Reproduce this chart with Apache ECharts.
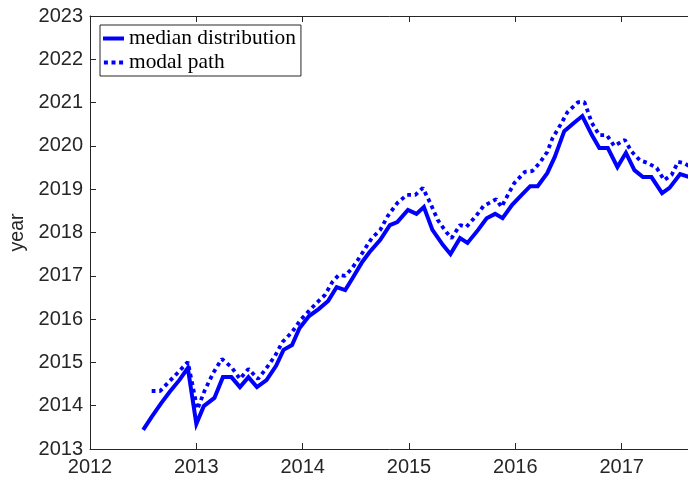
<!DOCTYPE html>
<html>
<head>
<meta charset="utf-8">
<script src="https://cdn.jsdelivr.net/npm/echarts@6/dist/echarts.min.js"></script>
<style>
html,body{margin:0;padding:0;background:#fff;}
#chart{width:688px;height:482px;}
</style>
</head>
<body>
<div id="chart"></div>
<script>
var medianX = [2012.50,2012.58,2012.67,2012.75,2012.84,2012.92,2013.00,2013.07,2013.17,2013.25,2013.33,2013.41,2013.49,2013.57,2013.66,2013.75,2013.82,2013.90,2013.97,2014.06,2014.15,2014.24,2014.32,2014.40,2014.47,2014.56,2014.63,2014.73,2014.82,2014.89,2014.99,2015.07,2015.14,2015.22,2015.32,2015.39,2015.48,2015.55,2015.65,2015.73,2015.81,2015.88,2015.97,2016.06,2016.14,2016.21,2016.30,2016.37,2016.46,2016.55,2016.63,2016.72,2016.79,2016.87,2016.96,2017.04,2017.12,2017.20,2017.28,2017.38,2017.45,2017.55,2017.64];
var medianY = [2013.44,2013.74,2014.06,2014.32,2014.59,2014.87,2013.58,2013.99,2014.18,2014.66,2014.66,2014.43,2014.66,2014.43,2014.59,2014.92,2015.29,2015.40,2015.79,2016.07,2016.23,2016.42,2016.74,2016.67,2016.95,2017.32,2017.55,2017.83,2018.17,2018.24,2018.52,2018.43,2018.59,2018.06,2017.71,2017.50,2017.87,2017.76,2018.06,2018.33,2018.43,2018.33,2018.64,2018.87,2019.07,2019.07,2019.37,2019.74,2020.34,2020.53,2020.69,2020.25,2019.95,2019.95,2019.51,2019.84,2019.44,2019.28,2019.28,2018.91,2019.03,2019.35,2019.28];
var modalX = [2012.58,2012.66,2012.75,2012.84,2012.92,2013.01,2013.08,2013.16,2013.24,2013.33,2013.41,2013.49,2013.58,2013.66,2013.74,2013.81,2013.90,2013.98,2014.06,2014.13,2014.21,2014.28,2014.34,2014.40,2014.46,2014.52,2014.58,2014.65,2014.73,2014.80,2014.89,2014.98,2015.06,2015.13,2015.20,2015.27,2015.35,2015.40,2015.48,2015.54,2015.63,2015.70,2015.82,2015.87,2015.93,2015.99,2016.09,2016.16,2016.23,2016.30,2016.35,2016.43,2016.49,2016.59,2016.65,2016.72,2016.79,2016.86,2016.93,2017.03,2017.09,2017.17,2017.24,2017.33,2017.40,2017.47,2017.53,2017.59,2017.66];
var modalY = [2014.34,2014.34,2014.57,2014.80,2015.01,2013.92,2014.36,2014.76,2015.08,2014.89,2014.62,2014.85,2014.62,2014.87,2015.15,2015.47,2015.70,2015.98,2016.19,2016.37,2016.56,2016.86,2017.02,2017.00,2017.16,2017.37,2017.60,2017.87,2018.06,2018.38,2018.68,2018.87,2018.87,2019.03,2018.68,2018.29,2018.01,2017.87,2018.17,2018.13,2018.38,2018.61,2018.77,2018.59,2018.87,2019.14,2019.40,2019.42,2019.61,2019.86,2020.18,2020.51,2020.78,2021.01,2021.01,2020.53,2020.25,2020.25,2020.00,2020.14,2019.88,2019.67,2019.61,2019.49,2019.21,2019.33,2019.63,2019.60,2019.49];
var seriesNames = ['median distribution', 'modal path'];
var xMin = 2012, xMax = 2018, yMin = 2013, yMax = 2023;

function pairs(xs, ys) { return xs.map(function (x, i) { return [x, ys[i]]; }); }

var axisColor = '#262626';
var tickFont = { fontFamily: 'Liberation Sans, Arial, sans-serif', fontSize: 20, color: axisColor };

var chart = echarts.init(document.getElementById('chart'), null, { renderer: 'canvas' });
chart.setOption({
  animation: false,
  backgroundColor: '#ffffff',
  grid: { left: 90, top: 16, width: 638, height: 433, containLabel: false, outerBoundsMode: 'none' },
  legend: {
    data: [
      { name: seriesNames[0], icon: 'path://M0,0h21v4h-21z' },
      { name: seriesNames[1], icon: 'path://M0,0h4v4h-4z M7.6,0h4v4h-4z M15.2,0h4v4h-4z' }
    ],
    orient: 'vertical',
    left: 100, top: 25,
    padding: [3, 5, 3, 3],
    itemWidth: 21, itemHeight: 4, itemGap: 3,
    borderColor: axisColor, borderWidth: 1, backgroundColor: '#ffffff',
    itemStyle: { color: '#0000ff' },
    textStyle: { fontFamily: 'Liberation Serif, Times New Roman, serif', fontSize: 21.4, lineHeight: 20, color: '#000' }
  },
  xAxis: [{
    type: 'value', min: xMin, max: xMax, interval: 1, position: 'bottom',
    axisLine: { show: true, lineStyle: { color: axisColor, width: 1 } },
    axisTick: { show: true, inside: true, length: 6, lineStyle: { color: axisColor } },
    axisLabel: Object.assign({ margin: 8, formatter: function (v) { return String(v); } }, tickFont),
    splitLine: { show: false }
  }, {
    type: 'value', min: xMin, max: xMax, interval: 1, position: 'top',
    axisLine: { show: true, lineStyle: { color: axisColor, width: 1 } },
    axisTick: { show: true, inside: true, length: 6, lineStyle: { color: axisColor } },
    axisLabel: { show: false }, splitLine: { show: false }
  }],
  yAxis: [{
    type: 'value', min: yMin, max: yMax, interval: 1,
    name: 'year', nameLocation: 'middle', nameGap: 54, nameRotate: 90,
    nameTextStyle: { fontFamily: 'Liberation Sans, Arial, sans-serif', fontSize: 19.5, color: axisColor },
    axisLine: { show: true, lineStyle: { color: axisColor, width: 1 } },
    axisTick: { show: true, inside: true, length: 6, lineStyle: { color: axisColor } },
    axisLabel: Object.assign({ margin: 7, formatter: function (v) { return String(v); } }, tickFont),
    splitLine: { show: false }
  }],
  series: [{
    name: seriesNames[0], type: 'line', symbol: 'none', showSymbol: false,
    data: pairs(medianX, medianY),
    lineStyle: { color: '#0000ff', width: 4, join: 'miter' },
    itemStyle: { color: '#0000ff' }
  }, {
    name: seriesNames[1], type: 'line', symbol: 'none', showSymbol: false,
    data: pairs(modalX, modalY),
    lineStyle: { color: '#0000ff', width: 3.8, type: [3.8, 3.8] },
    itemStyle: { color: '#0000ff' }
  }]
});
</script>
</body>
</html>
